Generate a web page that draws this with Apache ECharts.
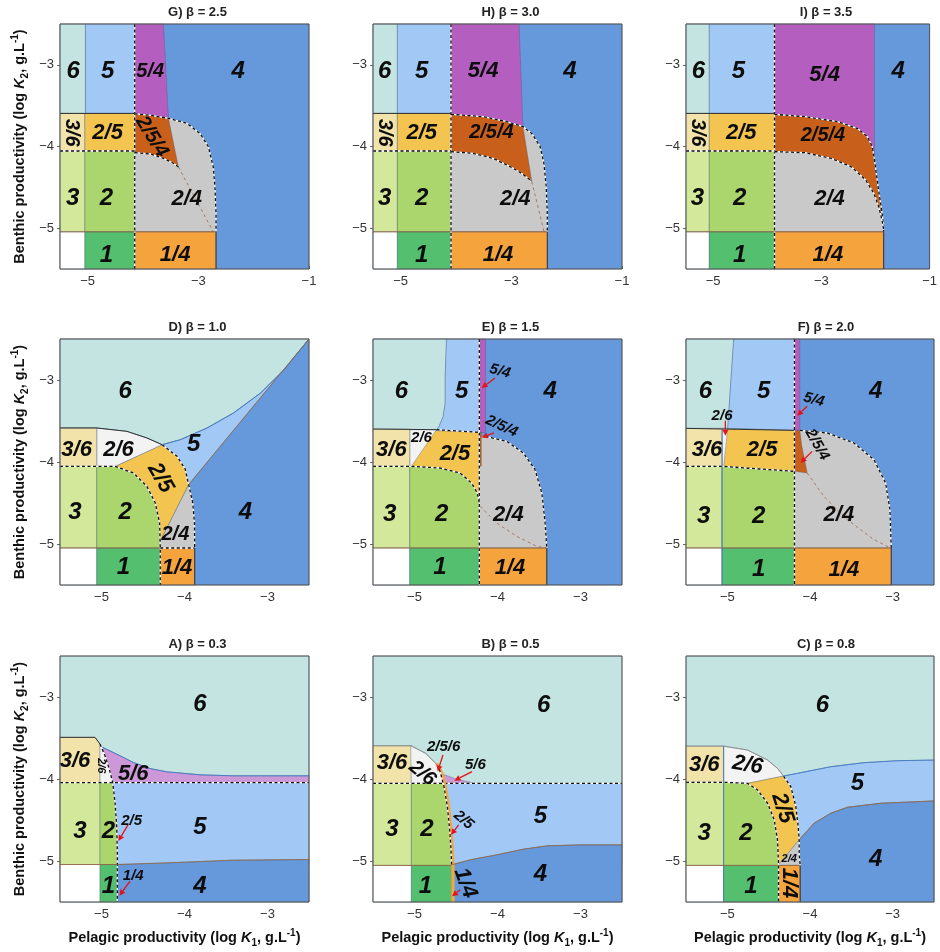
<!DOCTYPE html>
<html><head><meta charset="utf-8">
<script src="https://cdn.jsdelivr.net/npm/echarts@6/dist/echarts.min.js"></script>
<style>html,body{margin:0;padding:0;background:#fff}#c{width:940px;height:952px}</style>
</head><body><div id="c"></div>
<script>
// ---------- Tick values ----------
const X_TICKS_TOP = [-5, -4, -3, -2, -1];
const X_LABELS_TOP = [-5, -3, -1];
const X_TICKS_LOW = [-5, -4, -3];
const X_LABELS_LOW = [-5, -4, -3];
const Y_TICKS = [-5, -4, -3];
const Y_LABELS = [-5, -4, -3];

// ---------- Panel titles ----------
const TITLES = ['G) β = 2.5','H) β = 3.0','I) β = 3.5','D) β = 1.0','E) β = 1.5','F) β = 2.0','A) β = 0.3','B) β = 0.5','C) β = 0.8'];

// ---------- Regions: [name, rect [x0,y0,x1,y1] or polygon [[x,y],...]] ----------
const G_regions = [
 ['4', [-5.5,-5.5,-1,-2.5]],
 ['2/4', [[-4.15,-3.60],[-3.85,-3.62],[-3.54,-3.655],[-3.21,-3.716],[-2.97,-3.84],[-2.82,-4.00],[-2.73,-4.25],[-2.70,-4.49],[-2.68,-4.82],[-2.68,-5.045],[-4.15,-5.045]]],
 ['2/5/4', [[-4.15,-3.60],[-3.85,-3.62],[-3.54,-3.655],[-3.36,-4.25],[-3.45,-4.205],[-3.63,-4.145],[-3.87,-4.09],[-4.15,-4.075]]],
 ['5/4', [[-4.15,-2.5],[-3.63,-2.5],[-3.54,-3.655],[-3.85,-3.62],[-4.15,-3.60]]],
 ['1/4', [-4.15,-5.5,-2.68,-5.045]],
 ['6', [-5.5,-3.595,-5.04,-2.5]],
 ['5', [-5.04,-3.595,-4.15,-2.5]],
 ['3/6', [-5.5,-4.055,-5.05,-3.595]],
 ['2/5', [-5.05,-4.055,-4.15,-3.595]],
 ['3', [-5.5,-5.045,-5.05,-4.055]],
 ['2', [-5.05,-5.045,-4.15,-4.055]],
 ['0', [-5.5,-5.5,-5.05,-5.045]],
 ['1', [-5.05,-5.5,-4.15,-5.045]]
];
const G_lines = [
 ['bw', [[-4.15,-2.5],[-4.15,-5.5]]],
 ['bw', [[-5.5,-4.055],[-4.15,-4.055]]],
 ['bw', [[-4.15,-3.60],[-3.85,-3.62],[-3.54,-3.655],[-3.21,-3.716],[-2.97,-3.84],[-2.82,-4.00],[-2.73,-4.25],[-2.70,-4.49],[-2.68,-4.82],[-2.68,-5.045]]],
 ['k', [[-2.68,-5.045],[-2.68,-5.5]]],
 ['bw', [[-4.15,-4.075],[-3.87,-4.09],[-3.63,-4.145],[-3.45,-4.205],[-3.36,-4.25]]],
 ['k', [[-5.5,-3.595],[-4.15,-3.595]]],
 ['br', [[-3.36,-4.25],[-2.73,-5.045]]],
 ['bs', [[-5.5,-5.045],[-2.68,-5.045]]]
];
const G_labels = [
 ['6',-5.26,-3.08,'L'],['5',-4.64,-3.08,'L'],['5/4',-3.87,-3.08,'M2'],['4',-2.28,-3.08,'L'],
 ['3/6',-5.29,-3.83,'M2',-90],['2/5',-4.64,-3.83,'M'],['2/5/4',-3.84,-3.88,'M2',-58],
 ['3',-5.27,-4.64,'L'],['2',-4.66,-4.64,'L'],['2/4',-3.21,-4.64,'M'],['1',-4.66,-5.33,'L'],['1/4',-3.42,-5.33,'M']
];
const G_arrows = [];

const H_regions = [
 ['4', [-5.5,-5.5,-1,-2.5]],
 ['2/4', [[-4.09,-3.606],[-3.51,-3.635],[-3.08,-3.696],[-2.79,-3.757],[-2.63,-3.84],[-2.48,-4.0],[-2.41,-4.21],[-2.37,-4.49],[-2.35,-4.82],[-2.35,-5.045],[-4.09,-5.045]]],
 ['2/5/4', [[-4.09,-3.606],[-3.51,-3.635],[-3.08,-3.696],[-2.79,-3.757],[-2.63,-4.43],[-2.66,-4.41],[-2.81,-4.33],[-3.02,-4.247],[-3.33,-4.145],[-3.69,-4.084],[-4.09,-4.063]]],
 ['5/4', [[-4.09,-2.5],[-2.86,-2.5],[-2.79,-3.757],[-3.08,-3.696],[-3.51,-3.635],[-4.09,-3.606]]],
 ['1/4', [-4.09,-5.5,-2.35,-5.045]],
 ['6', [-5.5,-3.595,-5.06,-2.5]],
 ['5', [-5.06,-3.595,-4.09,-2.5]],
 ['3/6', [-5.5,-4.055,-5.06,-3.595]],
 ['2/5', [-5.06,-4.055,-4.09,-3.595]],
 ['3', [-5.5,-5.045,-5.06,-4.055]],
 ['2', [-5.06,-5.045,-4.09,-4.055]],
 ['0', [-5.5,-5.5,-5.06,-5.045]],
 ['1', [-5.06,-5.5,-4.09,-5.045]]
];
const H_lines = [
 ['bw', [[-4.09,-2.5],[-4.09,-5.5]]],
 ['bw', [[-5.5,-4.055],[-4.09,-4.055]]],
 ['bw', [[-4.09,-3.606],[-3.51,-3.635],[-3.08,-3.696],[-2.79,-3.757],[-2.63,-3.84],[-2.48,-4.0],[-2.41,-4.21],[-2.37,-4.49],[-2.35,-4.82],[-2.35,-5.045]]],
 ['k', [[-2.35,-5.045],[-2.35,-5.5]]],
 ['bw', [[-4.09,-4.063],[-3.69,-4.084],[-3.33,-4.145],[-3.02,-4.247],[-2.81,-4.33],[-2.66,-4.41]]],
 ['k', [[-5.5,-3.595],[-4.09,-3.595]]],
 ['br', [[-2.63,-4.43],[-2.41,-5.04]]],
 ['bs', [[-5.5,-5.045],[-2.35,-5.045]]]
];
const H_labels = [
 ['6',-5.29,-3.08,'L'],['5',-4.62,-3.08,'L'],['5/4',-3.51,-3.08,'M'],['4',-1.94,-3.08,'L'],
 ['3/6',-5.29,-3.83,'M2',-90],['2/5',-4.62,-3.83,'M'],['2/5/4',-3.36,-3.83,'M2'],
 ['3',-5.29,-4.64,'L'],['2',-4.62,-4.64,'L'],['2/4',-2.93,-4.64,'M'],['1',-4.62,-5.33,'L'],['1/4',-3.24,-5.33,'M']
];
const H_arrows = [];

const I_regions = [
 ['4', [-5.5,-5.5,-1,-2.5]],
 ['2/5/4', [[-3.865,-3.606],[-3.30,-3.635],[-2.70,-3.696],[-2.33,-3.78],[-2.15,-3.88],[-2.06,-4.0],[-2.017,-4.165],[-1.95,-4.5],[-1.87,-4.85],[-1.848,-5.045],[-3.865,-5.045]]],
 ['2/4', [[-3.865,-4.063],[-3.30,-4.076],[-2.817,-4.145],[-2.45,-4.247],[-2.18,-4.41],[-2.03,-4.574],[-1.94,-4.737],[-1.88,-4.90],[-1.848,-5.02],[-1.848,-5.045],[-3.865,-5.045]]],
 ['5/4', [[-3.865,-2.5],[-2.017,-2.5],[-2.017,-4.165],[-2.06,-4.0],[-2.15,-3.88],[-2.33,-3.78],[-2.70,-3.696],[-3.30,-3.635],[-3.865,-3.606]]],
 ['1/4', [-3.865,-5.5,-1.848,-5.045]],
 ['6', [-5.5,-3.595,-5.07,-2.5]],
 ['5', [-5.07,-3.595,-3.865,-2.5]],
 ['3/6', [-5.5,-4.055,-5.07,-3.595]],
 ['2/5', [-5.07,-4.055,-3.865,-3.595]],
 ['3', [-5.5,-5.045,-5.07,-4.055]],
 ['2', [-5.07,-5.045,-3.865,-4.055]],
 ['0', [-5.5,-5.5,-5.07,-5.045]],
 ['1', [-5.07,-5.5,-3.865,-5.045]]
];
const I_lines = [
 ['bw', [[-3.865,-2.5],[-3.865,-5.5]]],
 ['bw', [[-5.5,-4.055],[-3.865,-4.055]]],
 ['bw', [[-3.865,-3.606],[-3.30,-3.635],[-2.70,-3.696],[-2.33,-3.78],[-2.15,-3.88],[-2.06,-4.0],[-2.017,-4.165],[-1.95,-4.5],[-1.87,-4.85],[-1.848,-5.045]]],
 ['k', [[-1.848,-5.045],[-1.848,-5.5]]],
 ['bw', [[-3.865,-4.063],[-3.30,-4.076],[-2.817,-4.145],[-2.45,-4.247],[-2.18,-4.41],[-2.03,-4.574],[-1.94,-4.737],[-1.88,-4.90],[-1.848,-5.02]]],
 ['k', [[-5.5,-3.595],[-3.865,-3.595]]],
 ['bs', [[-5.5,-5.045],[-1.848,-5.045]]]
];
const I_labels = [
 ['6',-5.27,-3.08,'L'],['5',-4.53,-3.08,'L'],['5/4',-2.94,-3.12,'M'],['4',-1.58,-3.08,'L'],
 ['3/6',-5.29,-3.83,'M2',-90],['2/5',-4.48,-3.83,'M'],['2/5/4',-2.97,-3.86,'M2'],
 ['3',-5.29,-4.64,'L'],['2',-4.51,-4.64,'L'],['2/4',-2.85,-4.64,'M'],['1',-4.51,-5.33,'L'],['1/4',-2.88,-5.33,'M']
];
const I_arrows = [];

const D_regions = [
 ['4', [-5.5,-5.5,-2.5,-2.5]],
 ['6', [[-5.5,-2.5],[-2.5,-2.5],[-2.80,-2.874],[-3.084,-3.159],[-3.406,-3.40],[-3.728,-3.585],[-4.05,-3.728],[-4.27,-3.789],[-4.453,-3.707],[-4.695,-3.626],[-5.057,-3.585],[-5.5,-3.585]]],
 ['5', [[-2.5,-2.5],[-2.80,-2.874],[-3.084,-3.159],[-3.406,-3.40],[-3.728,-3.585],[-4.05,-3.728],[-4.27,-3.789],[-4.09,-3.93],[-3.99,-4.09],[-3.95,-4.276]]],
 ['2/5', [[-4.836,-4.053],[-4.27,-3.789],[-4.09,-3.93],[-3.99,-4.09],[-3.95,-4.276],[-4.292,-4.967],[-4.30,-4.744],[-4.352,-4.50],[-4.453,-4.297],[-4.614,-4.134]]],
 ['2/4', [[-3.95,-4.276],[-3.90,-4.50],[-3.88,-4.744],[-3.877,-5.049],[-4.292,-5.049],[-4.292,-4.967]]],
 ['2/6', [[-5.057,-3.585],[-4.695,-3.626],[-4.453,-3.707],[-4.27,-3.789],[-4.836,-4.053],[-5.057,-4.053]]],
 ['3/6', [-5.5,-4.053,-5.057,-3.585]],
 ['3', [-5.5,-5.049,-5.057,-4.053]],
 ['2', [[-5.057,-4.053],[-4.836,-4.053],[-4.614,-4.134],[-4.453,-4.297],[-4.352,-4.50],[-4.30,-4.744],[-4.292,-5.049],[-5.057,-5.049]]],
 ['0', [-5.5,-5.5,-5.057,-5.049]],
 ['1', [-5.057,-5.5,-4.292,-5.049]],
 ['1/4', [-4.292,-5.5,-3.877,-5.049]]
];
const D_lines = [
 ['bw', [[-5.5,-4.053],[-4.836,-4.053],[-4.614,-4.134],[-4.453,-4.297],[-4.352,-4.50],[-4.30,-4.744],[-4.292,-5.049],[-4.292,-5.5]]],
 ['bw', [[-4.27,-3.789],[-4.09,-3.93],[-3.99,-4.09],[-3.95,-4.276],[-3.90,-4.50],[-3.88,-4.744],[-3.877,-5.049]]],
 ['k', [[-3.877,-5.049],[-3.877,-5.5]]],
 ['bw', [[-4.292,-5.049],[-3.877,-5.049]]],
 ['k', [[-5.5,-3.585],[-5.057,-3.585],[-4.695,-3.626],[-4.453,-3.707],[-4.27,-3.789]]],
 ['bs', [[-5.5,-5.049],[-4.292,-5.049]]],
 ['bl', [[-2.5,-2.5],[-2.80,-2.874],[-3.084,-3.159],[-3.406,-3.40],[-3.728,-3.585],[-4.05,-3.728],[-4.27,-3.789]]],
 ['bs', [[-2.5,-2.5],[-3.95,-4.276]]]
];
const D_labels = [
 ['6',-4.715,-3.14,'L'],['3/6',-5.30,-3.85,'M'],['2/6',-4.795,-3.85,'M'],['5',-3.89,-3.79,'L'],
 ['2/5',-4.29,-4.195,'M',-60],['3',-5.32,-4.62,'L'],['2',-4.715,-4.62,'L'],['4',-3.265,-4.62,'L'],
 ['2/4',-4.11,-4.886,'M2'],['1',-4.735,-5.29,'L'],['1/4',-4.09,-5.29,'M']
];
const D_arrows = [];

const E_regions = [
 ['4', [-5.5,-5.5,-2.5,-2.5]],
 ['2/4', [[-4.219,-3.687],[-4.143,-3.687],[-3.889,-3.748],[-3.688,-3.89],[-3.547,-4.094],[-3.466,-4.378],[-3.426,-4.744],[-3.406,-5.049],[-4.219,-5.049]]],
 ['5/4', [-4.219,-3.64,-4.143,-2.5]],
 ['2/5/4', [-4.219,-4.05,-4.195,-3.64]],
 ['6', [[-5.5,-2.5],[-4.614,-2.5],[-4.63,-2.955],[-4.63,-3.28],[-4.654,-3.443],[-4.703,-3.565],[-4.735,-3.606],[-5.5,-3.606]]],
 ['5', [[-4.614,-2.5],[-4.219,-2.5],[-4.219,-3.638],[-4.735,-3.606],[-4.703,-3.565],[-4.654,-3.443],[-4.63,-3.28],[-4.63,-2.955]]],
 ['2/5', [[-5.057,-3.606],[-4.219,-3.638],[-4.219,-4.5],[-4.244,-4.378],[-4.312,-4.256],[-4.453,-4.134],[-4.695,-4.073],[-5.037,-4.053],[-5.057,-4.053]]],
 ['2/6', [[-5.057,-3.606],[-4.735,-3.606],[-5.037,-4.053],[-5.057,-4.053]]],
 ['3/6', [-5.5,-4.053,-5.057,-3.598]],
 ['3', [-5.5,-5.049,-5.057,-4.053]],
 ['2', [[-5.057,-4.053],[-5.037,-4.053],[-4.695,-4.073],[-4.453,-4.134],[-4.312,-4.256],[-4.244,-4.378],[-4.219,-4.5],[-4.219,-5.049],[-5.057,-5.049]]],
 ['0', [-5.5,-5.5,-5.057,-5.049]],
 ['1', [-5.057,-5.5,-4.219,-5.049]],
 ['1/4', [-4.219,-5.5,-3.406,-5.049]]
];
const E_lines = [
 ['bw', [[-4.219,-2.5],[-4.219,-5.5]]],
 ['bw', [[-5.5,-4.053],[-5.037,-4.053],[-4.695,-4.073],[-4.453,-4.134],[-4.312,-4.256],[-4.244,-4.378],[-4.219,-4.5]]],
 ['bw', [[-4.143,-3.687],[-3.889,-3.748],[-3.688,-3.89],[-3.547,-4.094],[-3.466,-4.378],[-3.426,-4.744],[-3.406,-5.049]]],
 ['bw', [[-4.735,-3.606],[-4.219,-3.638]]],
 ['k', [[-3.406,-5.049],[-3.406,-5.5]]],
 ['k', [[-5.5,-3.598],[-4.735,-3.606]]],
 ['br', [[-4.211,-4.54],[-4.01,-4.744],[-3.768,-4.907],[-3.527,-5.028],[-3.41,-5.049]]],
 ['bs', [[-5.5,-5.049],[-3.406,-5.049]]]
];
const E_labels = [
 ['6',-5.158,-3.138,'L'],['5',-4.433,-3.138,'L'],['4',-3.366,-3.138,'L'],['5/4',-3.97,-2.894,'S',-15],
 ['2/5/4',-3.95,-3.565,'S',-25],['2/6',-4.916,-3.70,'S'],['3/6',-5.279,-3.85,'M'],['2/5',-4.513,-3.898,'M'],
 ['3',-5.30,-4.642,'L'],['2',-4.674,-4.642,'L'],['2/4',-3.869,-4.642,'M'],['1',-4.695,-5.29,'L'],['1/4',-3.849,-5.29,'M']
];
const E_arrows = [
 [[-4.03,-2.976],[-4.191,-3.098]],
 [[-4.042,-3.646],[-4.191,-3.70]]
];

const F_regions = [
 ['4', [-5.5,-5.5,-2.5,-2.5]],
 ['2/4', [[-4.188,-3.614],[-4.123,-3.614],[-3.792,-3.646],[-3.469,-3.768],[-3.227,-3.972],[-3.085,-4.256],[-3.033,-4.581],[-3.017,-5.049],[-4.188,-5.049]]],
 ['2/5/4', [[-4.188,-3.614],[-4.123,-3.614],[-4.10,-3.80],[-4.06,-4.0],[-4.034,-4.134],[-4.188,-4.114]]],
 ['5/4', [-4.188,-3.614,-4.123,-2.5]],
 ['6', [[-5.5,-2.5],[-4.923,-2.5],[-4.995,-3.59],[-5.5,-3.59]]],
 ['5', [[-4.923,-2.5],[-4.188,-2.5],[-4.188,-3.614],[-4.995,-3.59]]],
 ['2/5', [[-5.064,-3.59],[-4.188,-3.614],[-4.188,-4.114],[-5.064,-4.053]]],
 ['2/6', [[-5.064,-3.59],[-4.995,-3.59],[-5.044,-4.053],[-5.064,-4.053]]],
 ['3/6', [-5.5,-4.053,-5.064,-3.59]],
 ['3', [-5.5,-5.049,-5.064,-4.053]],
 ['2', [[-5.064,-4.053],[-4.188,-4.114],[-4.188,-5.049],[-5.064,-5.049]]],
 ['0', [-5.5,-5.5,-5.064,-5.049]],
 ['1', [-5.064,-5.5,-4.188,-5.049]],
 ['1/4', [-4.188,-5.5,-3.017,-5.049]]
];
const F_lines = [
 ['bw', [[-4.188,-2.5],[-4.188,-5.5]]],
 ['bw', [[-5.5,-4.053],[-5.064,-4.053],[-4.188,-4.114]]],
 ['bw', [[-4.123,-3.614],[-3.792,-3.646],[-3.469,-3.768],[-3.227,-3.972],[-3.085,-4.256],[-3.033,-4.581],[-3.017,-5.049]]],
 ['k', [[-3.017,-5.049],[-3.017,-5.5]]],
 ['k', [[-5.5,-3.59],[-4.188,-3.614]]],
 ['br', [[-4.034,-4.134],[-3.832,-4.419],[-3.55,-4.703],[-3.227,-4.947],[-3.025,-5.049]]],
 ['bs', [[-5.5,-5.049],[-3.017,-5.049]]],
 ['bl', [[-5.064,-3.59],[-5.064,-5.5]]]
];
const F_labels = [
 ['6',-5.266,-3.138,'L'],['5',-4.559,-3.138,'L'],['4',-3.206,-3.138,'L'],['5/4',-3.953,-3.24,'S',-15],
 ['2/6',-5.064,-3.443,'S'],['3/6',-5.246,-3.85,'M'],['2/5',-4.579,-3.85,'M'],['2/5/4',-3.913,-3.789,'S',-60],
 ['3',-5.286,-4.663,'L'],['2',-4.62,-4.663,'L'],['2/4',-3.651,-4.642,'M'],['1',-4.62,-5.313,'L'],['1/4',-3.59,-5.313,'M']
];
const F_arrows = [
 [[-4.034,-3.321],[-4.155,-3.435]],
 [[-5.024,-3.496],[-5.024,-3.679]],
 [[-3.974,-3.87],[-4.115,-4.012]]
];

const A_regions = [
 ['6', [-5.5,-5.5,-2.5,-2.5]],
 ['5', [-5.5,-5.043,-2.5,-4.043]],
 ['4', [[-4.809,-5.5],[-2.5,-5.5],[-2.5,-4.982],[-3.412,-4.99],[-4.215,-5.023],[-4.809,-5.043]]],
 ['5/6', [[-4.986,-3.614],[-4.777,-3.716],[-4.617,-3.798],[-4.416,-3.872],[-4.215,-3.912],[-3.813,-3.949],[-3.412,-3.961],[-2.5,-3.961],[-2.5,-4.043],[-4.865,-4.043],[-4.906,-3.88],[-4.958,-3.716]]],
 ['3/6', [[-5.5,-3.492],[-5.078,-3.492],[-5.018,-3.574],[-5.018,-4.043],[-5.5,-4.043]]],
 ['2/6', [[-5.018,-3.574],[-4.958,-3.716],[-4.906,-3.88],[-4.865,-4.043],[-5.018,-4.043]]],
 ['3', [-5.5,-5.043,-5.018,-4.043]],
 ['2', [[-5.018,-4.043],[-4.865,-4.043],[-4.837,-4.288],[-4.817,-4.574],[-4.809,-4.90],[-4.809,-5.043],[-5.018,-5.043]]],
 ['0', [-5.5,-5.5,-5.018,-5.043]],
 ['1', [-5.018,-5.5,-4.809,-5.043]]
];
const A_lines = [
 ['bw', [[-5.5,-4.043],[-2.5,-4.043]]],
 ['bw', [[-5.018,-3.574],[-4.958,-3.716],[-4.906,-3.88],[-4.865,-4.043],[-4.837,-4.288],[-4.817,-4.574],[-4.809,-4.90],[-4.809,-5.043],[-4.809,-5.5]]],
 ['k', [[-5.5,-3.492],[-5.078,-3.492],[-5.018,-3.574]]],
 ['bs', [[-5.5,-5.043],[-4.809,-5.043],[-4.215,-5.023],[-3.412,-4.99],[-2.5,-4.982]]],
 ['bl', [[-4.986,-3.614],[-4.777,-3.716],[-4.617,-3.798],[-4.416,-3.872],[-4.215,-3.912],[-3.813,-3.949],[-3.412,-3.961],[-2.5,-3.961]]]
];
const A_labels = [
 ['6',-3.813,-3.084,'L'],['3/6',-5.319,-3.778,'M'],['2/6',-5.0,-3.839,'XS',-90],['5/6',-4.617,-3.941,'M'],
 ['3',-5.259,-4.635,'L'],['2',-4.918,-4.635,'L'],['5',-3.813,-4.594,'L'],['1',-4.918,-5.308,'L'],['4',-3.813,-5.308,'L'],
 ['2/5',-4.637,-4.512,'S'],['1/4',-4.617,-5.186,'S']
];
const A_arrows = [
 [[-4.677,-4.553],[-4.797,-4.757]],
 [[-4.657,-5.247],[-4.785,-5.423]]
];

const B_regions = [
 ['6', [-5.5,-5.5,-2.5,-2.5]],
 ['5', [-5.5,-5.05,-2.5,-4.053]],
 ['4', [[-4.552,-5.5],[-2.5,-5.5],[-2.5,-4.803],[-3.002,-4.803],[-3.404,-4.815],[-3.685,-4.855],[-4.006,-4.924],[-4.327,-4.985],[-4.552,-5.046]]],
 ['5/6', [[-4.685,-3.93],[-4.50,-4.0],[-4.30,-4.045],[-4.66,-4.053]]],
 ['3/6', [-5.5,-4.053,-5.038,-3.595]],
 ['2/6', [[-5.046,-3.586],[-4.865,-3.688],[-4.745,-3.809],[-4.685,-3.931],[-4.655,-4.053],[-5.038,-4.053]]],
 ['3', [-5.5,-5.054,-5.038,-4.053]],
 ['2', [[-5.038,-4.053],[-4.655,-4.053],[-4.645,-4.093],[-4.604,-4.336],[-4.576,-4.62],[-4.56,-4.863],[-4.552,-5.054],[-5.038,-5.054]]],
 ['0', [-5.5,-5.5,-5.038,-5.054]],
 ['1', [-5.038,-5.5,-4.552,-5.054]]
];
const B_lines = [
 ['bw', [[-5.5,-4.053],[-2.5,-4.053]]],
 ['or', [[-4.73,-3.809],[-4.67,-3.931],[-4.63,-4.093],[-4.589,-4.336],[-4.561,-4.62],[-4.545,-4.863],[-4.537,-5.046],[-4.537,-5.5]]],
 ['bw', [[-4.70,-3.88],[-4.685,-3.931],[-4.645,-4.093],[-4.604,-4.336],[-4.576,-4.62],[-4.56,-4.863],[-4.552,-5.054]]],
 ['g', [[-5.5,-3.595],[-5.046,-3.595],[-4.865,-3.688],[-4.745,-3.809],[-4.70,-3.88]]],
 ['bs', [[-5.5,-5.054],[-4.552,-5.054]]],
 ['bs', [[-4.552,-5.046],[-4.327,-4.985],[-4.006,-4.924],[-3.685,-4.855],[-3.404,-4.815],[-3.002,-4.803],[-2.5,-4.803]]]
];
const B_labels = [
 ['6',-3.444,-3.10,'L'],['3/6',-5.271,-3.809,'M'],['2/6',-4.906,-3.931,'M2',-40],['2/5/6',-4.649,-3.607,'S'],
 ['5/6',-4.267,-3.83,'S'],['3',-5.271,-4.62,'L'],['2',-4.849,-4.62,'L'],['5',-3.484,-4.458,'L'],
 ['2/5',-4.408,-4.499,'S',-40],['1',-4.869,-5.309,'L'],['4',-3.484,-5.168,'L'],['1/4',-4.388,-5.269,'M',-70]
];
const B_arrows = [
 [[-4.657,-3.708],[-4.721,-3.91]],
 [[-4.307,-3.911],[-4.52,-4.02]],
 [[-4.468,-4.559],[-4.56,-4.681]],
 [[-4.448,-5.35],[-4.548,-5.431]]
];

const C_regions = [
 ['6', [-5.5,-5.5,-2.5,-2.5]],
 ['5', [[-4.32,-3.964],[-4.151,-3.931],[-3.748,-3.85],[-3.346,-3.801],[-2.943,-3.777],[-2.5,-3.769],[-2.5,-4.268],[-3.144,-4.296],[-3.547,-4.345],[-3.748,-4.418],[-3.95,-4.539],[-4.131,-4.742],[-4.143,-4.58],[-4.171,-4.336],[-4.232,-4.093]]],
 ['4', [[-4.131,-4.742],[-3.95,-4.539],[-3.748,-4.418],[-3.547,-4.345],[-3.144,-4.296],[-2.5,-4.268],[-2.5,-5.5],[-4.119,-5.5],[-4.119,-5.054],[-4.131,-4.904]]],
 ['2/6', [[-5.045,-3.599],[-4.755,-3.647],[-4.513,-3.769],[-4.393,-3.87],[-4.32,-3.964],[-4.755,-4.053],[-5.045,-4.04]]],
 ['2/5', [[-4.32,-3.964],[-4.232,-4.093],[-4.171,-4.336],[-4.143,-4.58],[-4.131,-4.742],[-4.38,-5.046],[-4.393,-4.742],[-4.433,-4.499],[-4.513,-4.296],[-4.634,-4.134],[-4.755,-4.053]]],
 ['2/4', [[-4.38,-5.046],[-4.131,-4.742],[-4.131,-4.904],[-4.119,-5.054],[-4.38,-5.054]]],
 ['3/6', [-5.5,-4.04,-5.045,-3.599]],
 ['3', [-5.5,-5.054,-5.045,-4.04]],
 ['2', [[-5.045,-4.04],[-4.755,-4.053],[-4.634,-4.134],[-4.513,-4.296],[-4.433,-4.499],[-4.393,-4.742],[-4.38,-5.054],[-5.045,-5.054]]],
 ['0', [-5.5,-5.5,-5.045,-5.054]],
 ['1', [-5.045,-5.5,-4.38,-5.054]],
 ['1/4', [-4.38,-5.5,-4.119,-5.054]]
];
const C_lines = [
 ['bw', [[-5.5,-4.04],[-5.045,-4.04],[-4.755,-4.053],[-4.634,-4.134],[-4.513,-4.296],[-4.433,-4.499],[-4.393,-4.742],[-4.38,-5.054],[-4.38,-5.5]]],
 ['bw', [[-4.32,-3.964],[-4.232,-4.093],[-4.171,-4.336],[-4.143,-4.58],[-4.131,-4.742],[-4.131,-4.904],[-4.119,-5.054]]],
 ['k', [[-4.119,-5.054],[-4.119,-5.5]]],
 ['g', [[-5.5,-3.599],[-5.045,-3.599],[-4.755,-3.647],[-4.513,-3.769],[-4.393,-3.87],[-4.32,-3.964]]],
 ['bl', [[-5.045,-3.599],[-5.045,-5.5]]],
 ['bl', [[-4.32,-3.964],[-4.151,-3.931],[-3.748,-3.85],[-3.346,-3.801],[-2.943,-3.777],[-2.5,-3.769]]],
 ['bs', [[-5.5,-5.054],[-4.119,-5.054]]],
 ['bs', [[-4.131,-4.742],[-3.95,-4.539],[-3.748,-4.418],[-3.547,-4.345],[-3.144,-4.296],[-2.5,-4.268]]]
];
const C_labels = [
 ['6',-3.849,-3.10,'L'],['3/6',-5.279,-3.83,'M'],['2/6',-4.755,-3.83,'M',-10],['2/5',-4.332,-4.357,'M',-72],
 ['5',-3.426,-4.053,'L'],['3',-5.279,-4.661,'L'],['2',-4.775,-4.661,'L'],['4',-3.205,-4.985,'L'],
 ['2/4',-4.252,-4.977,'XS'],['1',-4.715,-5.309,'L'],['1/4',-4.252,-5.269,'M',-90]
];
const C_arrows = [];

// ---------- Styles ----------
const COLORS = {
 '6':'#c4e4e1','5':'#a2c9f6','4':'#6699dc','5/4':'#b45fbf','2/5/4':'#c8601c','2/4':'#c9c9c9',
 '2/5':'#f3c550','2':'#aad66d','3':'#d4e89b','3/6':'#f1e3a9','1':'#53bf6f','1/4':'#f5a33d',
 '2/6':'#f3f3f3','5/6':'#cc98d8','0':'#ffffff'
};
const LABEL_SIZES = {L:24, M:22, M2:20, S:15, XS:11};
const FONT = '"Liberation Sans", Arial, Helvetica, sans-serif';
const COLS = [60, 373, 686], WIDTHS = [249, 249, 248];
const ROWS = [24, 339, 656], HEIGHTS = [245, 246, 246];
const TITLE_DX = [13, 13, 16];

const PANELS = [
 [G_regions,G_lines,G_labels,G_arrows],[H_regions,H_lines,H_labels,H_arrows],[I_regions,I_lines,I_labels,I_arrows],
 [D_regions,D_lines,D_labels,D_arrows],[E_regions,E_lines,E_labels,E_arrows],[F_regions,F_lines,F_labels,F_arrows],
 [A_regions,A_lines,A_labels,A_arrows],[B_regions,B_lines,B_labels,B_arrows],[C_regions,C_lines,C_labels,C_arrows]
];

function toPts(r) {
  if (typeof r[0] === 'number') return [[r[0],r[1]],[r[2],r[1]],[r[2],r[3]],[r[0],r[3]]];
  return r;
}
const minus = v => (v < 0 ? '\u2212' + Math.abs(v) : String(v));

const nameRich = {
  b:{fontSize:14.5, fontWeight:'bold', fontFamily:FONT, color:'#111', lineHeight:20},
  i:{fontSize:14.5, fontWeight:'bold', fontStyle:'italic', fontFamily:FONT, color:'#111', lineHeight:20},
  s:{fontSize:10, fontWeight:'bold', fontFamily:FONT, color:'#111', lineHeight:10, verticalAlign:'bottom'},
  p:{fontSize:10, fontWeight:'bold', fontFamily:FONT, color:'#111', lineHeight:10, verticalAlign:'top'}
};

const grids = [], xAxes = [], yAxes = [], series = [], graphics = [];
PANELS.forEach((P, gi) => {
  const row = Math.floor(gi / 3), col = gi % 3;
  const top = row === 0;
  const [regions, lines, labels, arrows] = P;
  grids.push({left: COLS[col], top: ROWS[row], width: WIDTHS[col], height: HEIGHTS[row]});
  xAxes.push({
    type:'value', gridIndex: gi, min: -5.5, max: top ? -1 : -2.5,
    axisLine:{show:false}, splitLine:{show:false},
    axisTick:{show:true, inside:true, length:3, lineStyle:{color:'#666'}, customValues: top ? X_TICKS_TOP : X_TICKS_LOW},
    axisLabel:{customValues: top ? X_LABELS_TOP : X_LABELS_LOW, formatter: minus, color:'#333', fontSize:13, fontFamily:FONT, margin:6},
    name: row === 2 ? '{b|Pelagic productivity (log }{i|K}{s|1}{b|, g.L}{p|-1}{b|)}' : '',
    nameLocation:'middle', nameGap: 26,
    nameTextStyle:{rich: nameRich}
  });
  yAxes.push({
    type:'value', gridIndex: gi, min: -5.5, max: -2.5,
    axisLine:{show:false}, splitLine:{show:false},
    axisTick:{show:true, length:3, lineStyle:{color:'#666'}, customValues: Y_TICKS},
    axisLabel:{customValues: Y_LABELS, formatter: minus, color:'#333', fontSize:13, fontFamily:FONT, margin:6},
    name: col === 0 ? '{b|Benthic productivity (log }{i|K}{s|2}{b|, g.L}{p|-1}{b|)}' : '',
    nameLocation:'middle', nameGap: 30, nameRotate: 90,
    nameTextStyle:{rich: nameRich}
  });
  const base = {type:'custom', coordinateSystem:'cartesian2d', xAxisIndex: gi, yAxisIndex: gi, silent:true, animation:false};
  series.push(Object.assign({}, base, {
    z: 2, data: regions.map(() => [-4, -4]),
    renderItem(params, api) {
      const r = regions[params.dataIndex];
      return {type:'polygon', shape:{points: toPts(r[1]).map(p => api.coord(p))},
        style:{fill: COLORS[r[0]], stroke:'rgba(70,90,120,0.45)', lineWidth:0.8}};
    }
  }));
  series.push(Object.assign({}, base, {
    z: 3, data: lines.map(() => [-4, -4]),
    renderItem(params, api) {
      const l = lines[params.dataIndex];
      const pts = l[1].map(p => api.coord(p));
      const kind = l[0];
      const mk = (stroke, w, dash) => ({type:'polyline', shape:{points: pts}, style:{stroke, lineWidth:w, fill:null, lineDash: dash || null}});
      let ch;
      if (kind === 'bw') ch = [mk('#ffffff', 1.3), mk('#111111', 1.3, [3, 2.5])];
      else if (kind === 'k') ch = [mk('#333333', 1)];
      else if (kind === 'g') ch = [mk('#8a8a8a', 0.9)];
      else if (kind === 'br') ch = [mk('rgba(150,100,70,0.85)', 0.9, [3, 3])];
      else if (kind === 'bs') ch = [mk('rgba(150,100,60,0.8)', 1)];
      else if (kind === 'bl') ch = [mk('#4a7fc5', 1)];
      else if (kind === 'or') ch = [mk('#f4a83a', 3.2)];
      return {type:'group', children: ch};
    }
  }));
  series.push(Object.assign({}, base, {
    z: 4, data: arrows.map(() => [-4, -4]),
    renderItem(params, api) {
      const a = arrows[params.dataIndex];
      const p0 = api.coord(a[0]), p1 = api.coord(a[1]);
      const dx = p1[0]-p0[0], dy = p1[1]-p0[1], L = Math.hypot(dx, dy) || 1;
      const ux = dx/L, uy = dy/L, hl = 6, hw = 3;
      const b = [p1[0]-ux*hl, p1[1]-uy*hl];
      return {type:'group', children:[
        {type:'line', shape:{x1:p0[0], y1:p0[1], x2:b[0], y2:b[1]}, style:{stroke:'#e3141b', lineWidth:1.3}},
        {type:'polygon', shape:{points:[p1, [b[0]-uy*hw, b[1]+ux*hw], [b[0]+uy*hw, b[1]-ux*hw]]}, style:{fill:'#e3141b'}}
      ]};
    }
  }));
  series.push(Object.assign({}, base, {
    z: 5, data: labels.map(() => [-4, -4]),
    renderItem(params, api) {
      const l = labels[params.dataIndex];
      const p = api.coord([l[1], l[2]]);
      return {type:'text', x: p[0], y: p[1], rotation: (l[4] || 0) * Math.PI / 180,
        style:{text: l[0], font: 'italic bold ' + LABEL_SIZES[l[3]] + 'px ' + FONT, fill:'#0d0d0d',
          align:'center', verticalAlign:'middle', textAlign:'center', textVerticalAlign:'middle'}};
    }
  }));
  series.push(Object.assign({}, base, {
    z: 6, data: [[-4, -4]],
    renderItem(params, api) {
      const cs = params.coordSys;
      return {type:'rect', shape:{x: cs.x, y: cs.y, width: cs.width, height: cs.height},
        style:{fill:null, stroke:'#555', lineWidth:1}};
    }
  }));
  graphics.push({type:'text', x: COLS[col] + WIDTHS[col]/2 + TITLE_DX[col], y: ROWS[row] - 12,
    style:{text: TITLES[gi], font:'bold 13px ' + FONT, fill:'#222', align:'center', verticalAlign:'middle', textAlign:'center', textVerticalAlign:'middle'}});
});

const chart = echarts.init(document.getElementById('c'), null, {renderer:'canvas'});
chart.setOption({
  animation:false, backgroundColor:'#fff',
  grid: grids, xAxis: xAxes, yAxis: yAxes, series: series, graphic: graphics
});
</script>
</body></html>
